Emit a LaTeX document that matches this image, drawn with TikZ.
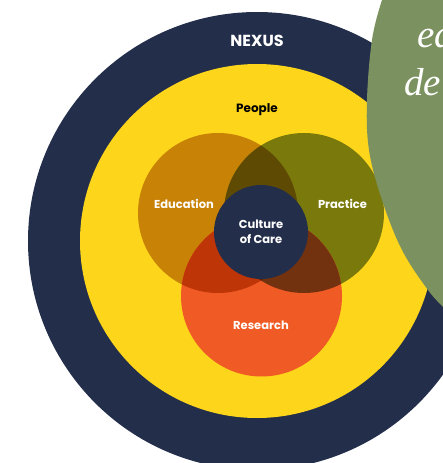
\documentclass[tikz,border=0pt]{standalone}
\usepackage{fontspec}
\newfontfamily\pop{Poppins}
\newfontfamily\ser{Liberation Serif}
\definecolor{navy}{RGB}{35,46,74}
\definecolor{sun}{RGB}{253,213,27}
\definecolor{edu}{RGB}{200,130,6}
\definecolor{prac}{RGB}{122,122,12}
\definecolor{res}{RGB}{240,90,36}
\definecolor{edupr}{RGB}{94,74,3}
\definecolor{edures}{RGB}{190,53,8}
\definecolor{pracres}{RGB}{115,50,15}
\definecolor{triple}{RGB}{90,31,3}
\definecolor{sage}{RGB}{123,146,96}
\tikzset{
  lbl/.style={font=\pop\bfseries\fontsize{11.5}{14}\selectfont, text=white, inner sep=0pt, align=center},
  big/.style={font=\ser\itshape\fontsize{39}{44}\selectfont, text=white, inner sep=0pt, anchor=base west}
}
\begin{document}
\begin{tikzpicture}[x=1pt,y=-1pt]
\useasboundingbox (0,0) rectangle (443,463);
\clip (0,0) rectangle (443,463);
\fill[white] (0,0) rectangle (443,463);
% rings
\fill[navy] (257,241) circle[radius=229pt];
\fill[sun] (257,241) circle[radius=177pt];
% venn base
\fill[edu] (218,213) circle[radius=80pt];
\fill[prac] (304,213) circle[radius=80pt];
\fill[res] (261.5,296) circle[radius=80.5pt];
\begin{scope}
  \clip (218,213) circle[radius=80pt];
  \fill[edupr] (304,213) circle[radius=80pt];
  \fill[edures] (261.5,296) circle[radius=80.5pt];
\end{scope}
\begin{scope}
  \clip (304,213) circle[radius=80pt];
  \fill[pracres] (261.5,296) circle[radius=80.5pt];
  \clip (218,213) circle[radius=80pt];
  \fill[triple] (261.5,296) circle[radius=80.5pt];
\end{scope}
\fill[navy] (261,232) circle[radius=47pt];
% green shape
\fill[sage] plot[smooth, tension=0.6] coordinates {(388,-12) (382,0) (372,40) (367,100) (369,150) (382,200) (402,250) (428,290) (446,310) (460,325)} -- (460,-12) -- cycle;
% labels
\node[lbl, font=\pop\bfseries\fontsize{16}{18}\selectfont] (nexus) at (257,41) {NEXUS};
\node[lbl, text=black, font=\pop\bfseries\fontsize{12}{14}\selectfont] (people) at (257,110) {People};
\node[lbl] (education) at (184,204) {Education};
\node[lbl] (practice) at (342.5,204) {Practice};
\node[lbl] (research) at (261,325) {Research};
\node[lbl, font=\pop\bfseries\fontsize{11.5}{15}\selectfont] (culture) at (261,232) {Culture\\of Care};
\node[big] (ed) at (417,47) {ed};
\node[big] (de) at (404,95) {de};
\end{tikzpicture}
\end{document}
